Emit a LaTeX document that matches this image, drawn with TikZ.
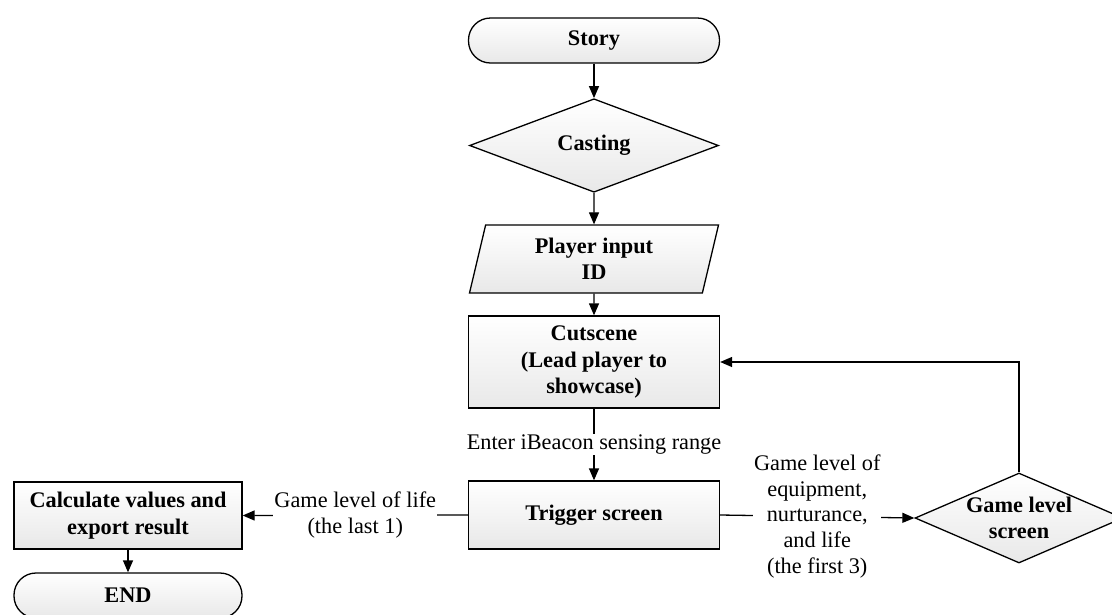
\documentclass[tikz,border=0pt]{standalone}
\usepackage{fontspec}
\setmainfont{Liberation Serif}
\usetikzlibrary{shapes.geometric,arrows.meta}
\begin{document}
\begin{tikzpicture}[x=1pt,y=-1pt,
  font=\fontsize{22.3}{26}\selectfont,
  >={Triangle[length=12pt,width=10pt]},
  shaded/.style={draw=black,line width=1.3pt,top color=white,bottom color=black!9},
  boxtext/.style={align=center,font=\fontsize{22.3}{26.5}\selectfont\bfseries},
  procbox/.style={shaded,boxtext,rectangle,inner sep=0pt},
  termbox/.style={shaded,boxtext,rectangle,rounded corners=22pt,inner sep=0pt},
  decbox/.style={shaded,boxtext,diamond,inner sep=0pt},
  iobox/.style={shaded,boxtext,trapezium,trapezium left angle=69,trapezium right angle=111,
    trapezium stretches body,inner sep=0pt},
  arr/.style={->,line width=1.3pt},
  lbl/.style={fill=white,inner sep=1pt,align=center,font=\fontsize{22.3}{25.7}\selectfont}
]
\useasboundingbox (0,0) rectangle (1112,614);

% main column
\node[termbox,minimum width=251pt,minimum height=45pt] (story) at (594,40.5) {Story};
\node[decbox,minimum width=249pt,minimum height=89pt] (cast) at (594,145.5) {Casting};
\node[iobox,minimum width=249pt,minimum height=68pt] (input) at (594,259) {Player input\\ID};
\node[procbox,minimum width=251pt,minimum height=92pt] (cut) at (594,362) {Cutscene\\(Lead player to\\showcase)};
\node[procbox,minimum width=251pt,minimum height=68pt] (trig) at (594,515) {Trigger screen};

% left branch
\node[procbox,minimum width=228pt,minimum height=67pt] (calc) at (128,515.5) {Calculate values and\\export result};
\node[termbox,minimum width=228pt,minimum height=45pt] (end) at (128,595.5) {END};

% right branch
\node[shaded,diamond,inner sep=0pt,minimum width=208pt,minimum height=90pt] (glvl) at (1019,518) {};
\node[boxtext] (glvltext) at (glvl.center) {Game level\\screen};

% connectors
\draw[arr] (story.south) -- (cast.north);
\draw[arr] (cast.south) -- (input.north);
\draw[arr] (input.south) -- (cut.north);
\draw[arr] (cut.south) -- node[lbl] {Enter iBeacon sensing range} (trig.north);
\draw[arr] (trig.west) -- node[lbl] {Game level of life\\(the last 1)} (calc.east);
\draw[arr] (calc.south) -- (end.north);
\draw[arr] (trig.east) -- node[lbl] {Game level of\\equipment,\\nurturance,\\and life\\(the first 3)} (glvl.west);
\draw[arr] (glvl.north) |- (cut.east);
\end{tikzpicture}
\end{document}
